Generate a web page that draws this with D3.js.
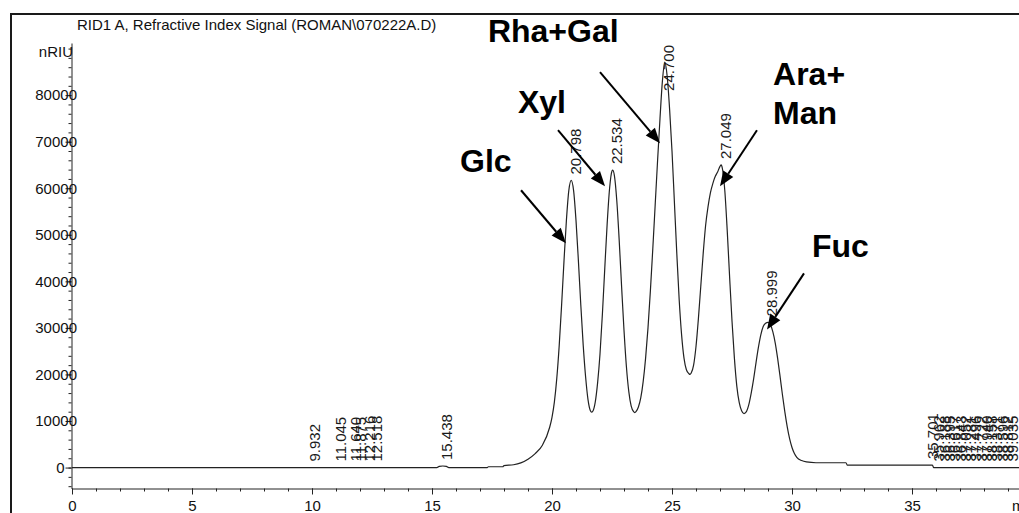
<!DOCTYPE html>
<html>
<head>
<meta charset="utf-8">
<script src="https://cdn.jsdelivr.net/npm/d3@7"></script>
<style>
  html, body { margin: 0; padding: 0; background: #fff; }
  svg { display: block; font-family: "Liberation Sans", Arial, sans-serif; }
</style>
</head>
<body>
<svg id="chart"></svg>
<script>
// RI trace: time (min) and signal (nRIU)
var traceTime = [0, 15.2, 15.3, 15.45, 15.6, 15.7, 17.3, 17.35, 17.95, 18.0, 18.4, 18.7, 19.0, 19.3, 19.6, 19.9,
  20.0, 20.1, 20.2, 20.3, 20.4, 20.5, 20.6, 20.7, 20.8, 20.9, 21.0, 21.1, 21.2, 21.3, 21.4, 21.5, 21.6, 21.65, 21.7, 21.8, 21.9,
  22.0, 22.1, 22.2, 22.3, 22.4, 22.5, 22.534, 22.6, 22.7, 22.8, 22.9, 23.0, 23.1, 23.2, 23.3, 23.4, 23.45, 23.5, 23.6, 23.7, 23.8, 23.9,
  24.0, 24.1, 24.2, 24.3, 24.4, 24.5, 24.6, 24.7, 24.8, 24.9, 25.0, 25.1, 25.2, 25.3, 25.4, 25.5, 25.6, 25.7, 25.75, 25.8, 25.9,
  26.0, 26.1, 26.2, 26.3, 26.4, 26.5, 26.6, 26.7, 26.8, 26.9, 27.0, 27.05, 27.1, 27.2, 27.3, 27.4, 27.5, 27.6, 27.7, 27.8, 27.9,
  28.0, 28.1, 28.2, 28.3, 28.4, 28.5, 28.6, 28.7, 28.8, 28.9, 29.0, 29.1, 29.2, 29.3, 29.4, 29.5, 29.6, 29.7, 29.8, 29.9,
  30.0, 30.1, 30.2, 30.4, 30.6, 31.0, 32.25, 32.3, 35.85, 35.9, 40];
var traceSignal = [0, 0, 250, 330, 250, 0, 0, 170, 170, 430, 600, 1000, 1800, 3000, 4800, 8600,
  10800, 14100, 19200, 26200, 34900, 44400, 53100, 59500, 61700, 59500, 53100, 44400, 34900, 26300, 19500, 14600, 12200, 11900, 12100, 14000, 18200,
  24400, 33000, 42900, 52500, 60000, 63700, 63900, 62700, 57300, 48800, 38900, 29500, 21700, 16300, 13200, 12000, 11800, 12000, 13000, 15000, 18500, 23500,
  30000, 38000, 47000, 56500, 66000, 75000, 83000, 87100, 84000, 77000, 68000, 57000, 46000, 36000, 28500, 23500, 21000, 20200, 20000, 20300, 22000,
  26000, 32000, 39000, 46000, 52000, 56000, 59000, 61000, 62500, 63500, 64700, 65000, 64200, 59500, 51000, 41000, 31500, 23500, 17500, 14000, 12200,
  11600, 12000, 13500, 16000, 19000, 22500, 25800, 28500, 30300, 31000, 31200, 30700, 29200, 26800, 23500, 19700, 15700, 12000, 8800, 6200,
  4300, 3000, 2200, 1500, 1200, 1030, 1030, 540, 540, 0, 0];

// integrated peak retention times
var peakTimes = [9.932, 11.045, 11.640, 11.875, 12.216, 12.518, 15.438,
  20.798, 22.534, 24.700, 27.049, 28.999,
  35.701, 35.962, 36.188, 36.395, 36.617, 36.843, 37.052, 37.281, 37.496,
  37.722, 37.940, 38.158, 38.371, 38.596, 38.812, 39.035];

var xTicks = [0, 5, 10, 15, 20, 25, 30, 35];
var yTicks = [0, 10000, 20000, 30000, 40000, 50000, 60000, 70000, 80000];

// sugar annotations (text anchor, arrow tail, arrow tip) in data units
var sugarNames = [["Glc"], ["Xyl"], ["Rha+Gal"], ["Ara+", "Man"], ["Fuc"]];
var sugarText = [[16.17, 63550], [18.58, 76240], [17.33, 91500], [29.21, 82260], [30.83, 45270]];
var arrowFrom = [[18.71, 59570], [20.25, 72470], [22.0, 84950], [28.54, 72470], [30.5, 41720]];
var arrowTo = [[20.58, 48200], [22.21, 60430], [24.5, 69680], [27.0, 60430], [28.96, 29680]];

var W = 1019, H = 513;
var svg = d3.select("#chart").attr("width", W).attr("height", H);

var x = d3.scaleLinear().domain([0, 40]).range([72, 1032]);
var y = d3.scaleLinear().domain([-4500, 91200]).range([488.5, 43]);

// outer frame (left + top)
svg.append("path")
  .attr("d", "M11,513V14H1019")
  .attr("fill", "none").attr("stroke", "#1a1a1a").attr("stroke-width", 2);

// title
svg.append("text")
  .attr("x", 77).attr("y", 30)
  .attr("font-size", 15).attr("fill", "#111")
  .text("RID1 A, Refractive Index Signal (ROMAN\\070222A.D)");

// y axis: minor ticks
var yMinor = d3.range(-4000, 90001, 2000);
svg.append("g")
  .attr("transform", "translate(71.5,0)")
  .call(d3.axisLeft(y).tickValues(yMinor).tickSize(3).tickFormat(""))
  .call(function (g) { g.select(".domain").remove(); })
  .selectAll("line").attr("stroke", "#222");

var yAxisG = svg.append("g")
  .attr("transform", "translate(71.5,0)")
  .call(d3.axisLeft(y).tickValues(yTicks).tickSize(6).tickSizeOuter(0).tickFormat(function (d) { return d; }));
yAxisG.select(".domain").attr("stroke", "#222");
yAxisG.selectAll("line").attr("stroke", "#222");
yAxisG.selectAll("text")
  .attr("font-size", 15).attr("font-family", "Liberation Sans, Arial, sans-serif")
  .attr("fill", "#111")
  .attr("x", function (d) { return d === 0 ? -7 : 5.5; });

svg.append("text")
  .attr("x", 73).attr("y", 57).attr("text-anchor", "end")
  .attr("font-size", 15).attr("fill", "#111")
  .text("nRIU");

// x axis
svg.append("g")
  .attr("transform", "translate(0,488.5)")
  .call(d3.axisBottom(x).tickValues(d3.range(0, 40, 1)).tickSize(3).tickFormat(""))
  .call(function (g) { g.select(".domain").remove(); })
  .selectAll("line").attr("stroke", "#222");

var xAxisG = svg.append("g")
  .attr("transform", "translate(0,488.5)")
  .call(d3.axisBottom(x).tickValues(xTicks).tickSize(6).tickSizeOuter(0).tickPadding(6));
xAxisG.select(".domain").attr("stroke", "#222");
xAxisG.selectAll("line").attr("stroke", "#222");
xAxisG.selectAll("text")
  .attr("font-size", 15).attr("font-family", "Liberation Sans, Arial, sans-serif")
  .attr("fill", "#111");

svg.append("text")
  .attr("x", 1012).attr("y", 511)
  .attr("font-size", 15).attr("fill", "#111")
  .text("min");

// trace
var trace = traceTime.map(function (t, i) { return [t, traceSignal[i]]; });
var line = d3.line()
  .x(function (d) { return x(d[0]); })
  .y(function (d) { return y(d[1]); })
  .curve(d3.curveMonotoneX);

svg.append("path")
  .datum(trace)
  .attr("d", line)
  .attr("fill", "none")
  .attr("stroke", "#222")
  .attr("stroke-width", 1.2);

// signal at a given time, for placing the peak labels
var interp = function (t) {
  var i = d3.bisector(function (d) { return d; }).left(traceTime, t);
  if (i <= 0) return traceSignal[0];
  if (i >= traceTime.length) return traceSignal[traceSignal.length - 1];
  var t0 = traceTime[i - 1], t1 = traceTime[i];
  var k = (t - t0) / (t1 - t0);
  return traceSignal[i - 1] + k * (traceSignal[i] - traceSignal[i - 1]);
};

var labels = svg.append("g").classed("peak-labels", true);
peakTimes.forEach(function (t) {
  var txt = labels.append("text")
    .attr("font-size", 15)
    .attr("fill", "#1a1a1a")
    .attr("dy", "0.36em")
    .text(t.toFixed(3));
  var len = txt.node().getComputedTextLength();
  var bottom = Math.max(y(interp(t)) - 6, 45 + len);
  txt.attr("transform", "translate(" + (x(t) + 4) + "," + bottom + ") rotate(-90)");
});

// sugar names and arrows
var ann = svg.append("g").classed("annotations", true);
sugarNames.forEach(function (lines, i) {
  var tx = ann.append("text")
    .attr("x", x(sugarText[i][0]))
    .attr("y", y(sugarText[i][1]))
    .attr("font-size", 32)
    .attr("font-weight", "bold")
    .attr("fill", "#000");
  lines.forEach(function (s, j) {
    tx.append("tspan")
      .attr("x", x(sugarText[i][0]))
      .attr("dy", j === 0 ? 0 : 39)
      .text(s);
  });

  var x1 = x(arrowFrom[i][0]), y1 = y(arrowFrom[i][1]);
  var x2 = x(arrowTo[i][0]), y2 = y(arrowTo[i][1]);
  var ang = Math.atan2(y2 - y1, x2 - x1);
  var hl = 15, hw = 6;
  var bx = x2 - hl * Math.cos(ang), by = y2 - hl * Math.sin(ang);
  ann.append("line")
    .attr("x1", x1).attr("y1", y1)
    .attr("x2", bx).attr("y2", by)
    .attr("stroke", "#000").attr("stroke-width", 2);
  var px = -Math.sin(ang) * hw, py = Math.cos(ang) * hw;
  ann.append("polygon")
    .attr("points", [[x2, y2], [bx + px, by + py], [bx - px, by - py]].map(function (p) { return p.join(","); }).join(" "))
    .attr("fill", "#000");
});
</script>
</body>
</html>
